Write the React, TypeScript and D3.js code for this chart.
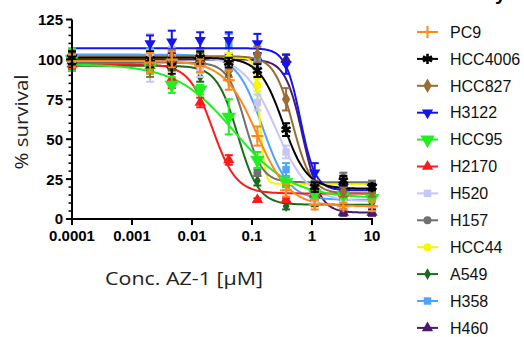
import * as d3 from "d3";

// concentrations (µM); first point is the vehicle control plotted at 0.0001
const conc = [0.0001, 0.002, 0.0046, 0.0137, 0.041, 0.123, 0.37, 1.11, 3.33, 10];

const cellLines = ["PC9", "HCC4006", "HCC827", "H3122", "HCC95", "H2170", "H520", "H157", "HCC44", "A549", "H358", "H460"];
const colors = ["#FF8A1C", "#000000", "#9C6B30", "#1414F0", "#22EE22", "#FF1A1A", "#C6C6F8", "#707070", "#F7F700", "#1B6B1B", "#4DA3FF", "#4A1A6E"];
const shapes = ["plus", "asterisk", "diamond", "triDown", "triDownBig", "triUp", "square", "circle", "circle", "diamondSmall", "square", "triUp"];

// fitted 4PL curve parameters
const tops = [99, 101, 102, 107, 97, 97, 102, 98, 101, 96, 103, 100];
const bottoms = [8, 19, 16, 18, 13, 16, 11, 23, 22, 9, 12, 4];
const ic50s = [0.12, 0.33, 0.48, 0.64, 0.05, 0.022, 0.25, 0.076, 0.135, 0.058, 0.15, 0.7];
const hills = [1.6, 2.2, 2.8, 3.5, 0.9, 2.2, 1.6, 3, 10, 2.5, 2, 3];

// mean % survival and error per cell line
const pc9Mean = [99, 98, 100, 96, 87, 52, 18, 9, 8, 8];
const pc9Err = [4, 6, 5, 4, 6, 6, 4, 3, 2, 3];
const hcc4006Mean = [101, 100, 96, 101, 98, 93, 56, 20, 24, 20];
const hcc4006Err = [4, 5, 5, 4, 3, 4, 4, 3, 3, 2];
const hcc827Mean = [100, 97, 101, 100, 93, 103, 75, 20, 17, 17];
const hcc827Err = [4, 8, 5, 4, 4, 5, 7, 3, 3, 3];
const h3122Mean = [101, 110, 111, 112, 112, 110, 97, 29, 20, 20];
const h3122Err = [4, 5, 7, 5, 5, 6, 6, 6, 2, 2];
const hcc95Mean = [100, 95, 84, 81, 64, 37, 23, 16, 15, 13];
const hcc95Err = [7, 4, 5, 3, 11, 5, 3, 3, 2, 2];
const h2170Mean = [97, 96, 88, 73, 37, 12, 12, 16, 16, 16];
const h2170Err = [3, 3, 6, 3, 3, 1, 1, 2, 2, 2];
const h520Mean = [100, 101, 104, 93, 97, 73, 42, 12, 12, 13];
const h520Err = [4, 15, 4, 4, 3, 5, 4, 2, 2, 2];
const h157Mean = [98, 97, 97, 99, 98, 29, 22, 22, 26, 22];
const h157Err = [3, 3, 3, 3, 3, 2, 2, 2, 3, 2];
const hcc44Mean = [102, 100, 101, 101, 101, 84, 22, 22, 23, 22];
const hcc44Err = [3, 3, 3, 3, 3, 4, 2, 2, 2, 2];
const a549Mean = [96, 95, 96, 89, 90, 24, 8, 10, 10, 10];
const a549Err = [3, 3, 3, 3, 3, 3, 2, 2, 2, 2];
const h358Mean = [103, 103, 103, 103, 110, 99, 31, 13, 12, 15];
const h358Err = [3, 4, 3, 3, 6, 4, 4, 2, 2, 2];
const h460Mean = [99, 100, 100, 100, 100, 101, 100, 15, 4, 4];
const h460Err = [3, 3, 3, 3, 3, 3, 3, 3, 2, 2];

const means = [pc9Mean, hcc4006Mean, hcc827Mean, h3122Mean, hcc95Mean, h2170Mean, h520Mean, h157Mean, hcc44Mean, a549Mean, h358Mean, h460Mean];
const errs = [pc9Err, hcc4006Err, hcc827Err, h3122Err, hcc95Err, h2170Err, h520Err, h157Err, hcc44Err, a549Err, h358Err, h460Err];

const xTicks = [0.0001, 0.001, 0.01, 0.1, 1, 10];
const xTickLabels = ["0.0001", "0.001", "0.01", "0.1", "1", "10"];
const yTicks = [0, 25, 50, 75, 100, 125];

const W = 524;
const H = 337;

const x = d3.scaleLog().domain([1e-4, 10]).range([72, 372]);
const y = d3.scaleLinear().domain([0, 125]).range([219, 19.5]);

function Marker({ shape, color, cx, cy }: { shape: string; color: string; cx: number; cy: number }) {
  const t = `translate(${cx},${cy})`;
  if (shape === "plus") {
    return <path d={d3.symbol(d3.symbolPlus, 50)() ?? ""} transform={t} fill="none" stroke={color} strokeWidth={2} />;
  }
  if (shape === "asterisk") {
    return <path d={d3.symbol(d3.symbolAsterisk, 75)() ?? ""} transform={t} fill="none" stroke={color} strokeWidth={2.6} />;
  }
  let type: d3.SymbolType = d3.symbolCircle;
  let size = 50;
  let rot = "";
  if (shape === "diamond") { type = d3.symbolDiamond; size = 60; }
  if (shape === "diamondSmall") { type = d3.symbolDiamond; size = 40; }
  if (shape === "square") { type = d3.symbolSquare; size = 55; }
  if (shape === "triUp") { type = d3.symbolTriangle; size = 55; }
  if (shape === "triDown") { type = d3.symbolTriangle; size = 55; rot = " rotate(180)"; }
  if (shape === "triDownBig") { type = d3.symbolTriangle; size = 90; rot = " rotate(180)"; }
  return <path d={d3.symbol(type, size)() ?? ""} transform={t + rot} fill={color} />;
}

export default function App() {
  const logGrid = d3.range(-4, 1.0001, 0.02).map((v) => Math.pow(10, v));

  const curvePath = (i: number) =>
    d3
      .line<number>()
      .x((c) => x(c))
      .y((c) => y(bottoms[i] + (tops[i] - bottoms[i]) / (1 + Math.pow(c / ic50s[i], hills[i]))))(logGrid) ?? "";

  const order = d3.range(cellLines.length).reverse();
  const yMinor = d3.range(0, 126, 5).filter((v) => v % 25 !== 0);

  return (
    <svg width={W} height={H} style={{ position: "absolute", left: 0, top: 0, background: "#fff" }} fontFamily="Liberation Sans, Arial, sans-serif">
      {/* title, cut off at the top edge as in the source */}
      <text x={506} y={0} textAnchor="end" fontSize={20} fontWeight="bold">y</text>

      {/* curves */}
      {order.map((i) => (
        <path key={"c" + i} d={curvePath(i)} fill="none" stroke={colors[i]} strokeWidth={2} />
      ))}

      {/* error bars and points */}
      {order.map((i) => (
        <g key={"p" + i}>
          {conc.map((c, j) => {
            const cx = x(c);
            const hi = y(means[i][j] + errs[i][j]);
            const lo = y(means[i][j] - errs[i][j]);
            return (
              <g key={j} stroke={colors[i]} strokeWidth={2}>
                <line x1={cx} x2={cx} y1={hi} y2={lo} />
                <line x1={cx - 4} x2={cx + 4} y1={hi} y2={hi} />
                <line x1={cx - 4} x2={cx + 4} y1={lo} y2={lo} />
              </g>
            );
          })}
          {conc.map((c, j) => (
            <Marker key={"m" + j} shape={shapes[i]} color={colors[i]} cx={x(c)} cy={y(means[i][j])} />
          ))}
        </g>
      ))}

      {/* y axis */}
      <line x1={72} x2={72} y1={y(125)} y2={y(0) + 1} stroke="#000" strokeWidth={2} />
      {yTicks.map((t) => (
        <g key={"yt" + t}>
          <line x1={66} x2={72} y1={y(t)} y2={y(t)} stroke="#000" strokeWidth={2} />
          <text x={63} y={y(t)} dy="0.36em" textAnchor="end" fontSize={15} fontWeight="bold">{t}</text>
        </g>
      ))}
      {yMinor.map((t) => (
        <line key={"ym" + t} x1={68.5} x2={72} y1={y(t)} y2={y(t)} stroke="#000" strokeWidth={1.5} />
      ))}

      {/* x axis */}
      <line x1={71} x2={373} y1={y(0)} y2={y(0)} stroke="#000" strokeWidth={2} />
      {xTicks.map((t, k) => (
        <g key={"xt" + t}>
          <line x1={x(t)} x2={x(t)} y1={y(0)} y2={y(0) + 6} stroke="#000" strokeWidth={2} />
          <text x={x(t)} y={241} textAnchor="middle" fontSize={15} fontWeight="bold">{xTickLabels[k]}</text>
        </g>
      ))}

      {/* axis titles */}
      <text x={184} y={285} textAnchor="middle" fontSize={19} fontFamily="Open Sans, sans-serif" fill="#222" textLength={158} lengthAdjust="spacingAndGlyphs">Conc. AZ-1 [µM]</text>
      <text transform="translate(28,122) rotate(-90)" textAnchor="middle" fontSize={19} fontFamily="Open Sans, sans-serif" fill="#222" textLength={95} lengthAdjust="spacingAndGlyphs">% survival</text>

      {/* legend */}
      {cellLines.map((name, i) => {
        const ly = 32 + i * 26.9;
        return (
          <g key={"lg" + name}>
            <line x1={417} x2={438} y1={ly} y2={ly} stroke={colors[i]} strokeWidth={2} />
            <Marker shape={shapes[i]} color={colors[i]} cx={427.5} cy={ly} />
            <text x={450} y={ly} dy="0.36em" fontSize={16} fill="#111">{name}</text>
          </g>
        );
      })}
    </svg>
  );
}
